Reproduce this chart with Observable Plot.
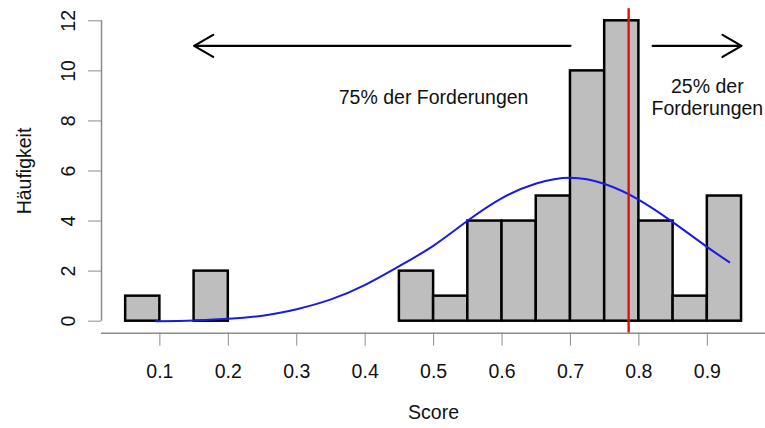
<!DOCTYPE html>
<html><head><meta charset="utf-8">
<script src="https://cdn.jsdelivr.net/npm/d3@7"></script>
<script src="https://cdn.jsdelivr.net/npm/@observablehq/plot@0.6"></script>
<style>body{margin:0;background:#fff}</style>
</head><body><div id="chart"></div>
<script>
// Histogram bins (left edges), width 0.05
const binStarts = [0.05,0.10,0.15,0.20,0.25,0.30,0.35,0.40,0.45,0.50,0.55,0.60,0.65,0.70,0.75,0.80,0.85,0.90];
const binWidth = 0.05;
const counts = [1,0,2,0,0,0,0,0,2,1,4,4,5,10,12,4,1,5];
// Fitted curve
const curveX = [0.094,0.150,0.200,0.250,0.300,0.350,0.400,0.450,0.500,0.550,0.600,0.650,0.700,0.750,0.800,0.850,0.900,0.932];
const curveY = [0.00,0.03,0.10,0.22,0.48,0.87,1.45,2.20,3.02,4.02,4.92,5.50,5.73,5.48,4.85,3.95,2.96,2.36];
const xTicks = [0.1,0.2,0.3,0.4,0.5,0.6,0.7,0.8,0.9];
const yTicks = [0,2,4,6,8,10,12];
const xLim = [0.0147, 0.985];
const yLim = [-0.48, 12.48];
const cutoff = 0.785;
const arrowList = [{x1:0.70,x2:0.15,y:11},{x1:0.82,x2:0.95,y:11}];
const notes = [{x:0.5,y:9,text:"75% der Forderungen"},{x:0.9,y:9,text:"25% der\nForderungen"}];

const bins = binStarts.map((s,i)=>({x1:s,x2:s+binWidth,y:counts[i]}));
const curve = curveX.map((x,i)=>({x,y:curveY[i]}));
const axisGray = "#8c8c8c";
const FS = 19.5;

const chart = Plot.plot({
  width:765, height:428,
  marginLeft:101, marginRight:0, marginTop:8.3, marginBottom:95.3,
  x:{domain:xLim},
  y:{domain:yLim},
  style:{fontFamily:"'Liberation Sans', Arial, sans-serif", fontSize:FS+"px", color:"#111", background:"#fff", overflow:"visible"},
  marks:[
    Plot.rectY(bins,{x1:"x1",x2:"x2",y1:0,y2:"y",fill:"#bebebe",stroke:"#000",strokeWidth:2.5}),
    Plot.line(curve,{x:"x",y:"y",stroke:"#1a1ae6",strokeWidth:2,curve:"natural"}),
    Plot.ruleX([cutoff],{y1:yLim[0],y2:yLim[1],stroke:"#e01010",strokeWidth:2.4}),
    Plot.arrow(arrowList,{x1:"x1",x2:"x2",y1:"y",y2:"y",stroke:"#000",strokeWidth:2.2,headLength:15,headAngle:60}),
    Plot.text(notes,{x:"x",y:"y",text:"text",lineHeight:1.12,dy:1.5,fill:"#111",fontSize:FS}),
    Plot.ruleY([yLim[0]],{x1:xLim[0],x2:xLim[1],stroke:axisGray,strokeWidth:1.5}),
    Plot.ruleX([xLim[0]],{y1:yTicks[0],y2:yTicks[yTicks.length-1],stroke:axisGray,strokeWidth:1.5}),
    Plot.axisX({ticks:xTicks,tickSize:13,tickPadding:17.5,tickFormat:d=>d.toFixed(1),label:null,stroke:axisGray,fill:"#111",fontSize:FS}),
    Plot.axisY({ticks:yTicks,tickSize:13,tickFormat:()=>"",label:null,stroke:axisGray}),
    Plot.text(yTicks,{y:d=>d,text:d=>String(d),frameAnchor:"left",dx:-33,rotate:-90,textAnchor:"middle",lineAnchor:"middle",fill:"#111",fontSize:FS}),
    Plot.text(["Häufigkeit"],{frameAnchor:"left",dx:-77,rotate:-90,textAnchor:"middle",lineAnchor:"middle",fill:"#111",fontSize:FS}),
    Plot.text(["Score"],{frameAnchor:"bottom",dy:80,textAnchor:"middle",lineAnchor:"middle",fill:"#111",fontSize:FS})
  ]
});
document.getElementById("chart").appendChild(chart);
</script>
</body></html>
